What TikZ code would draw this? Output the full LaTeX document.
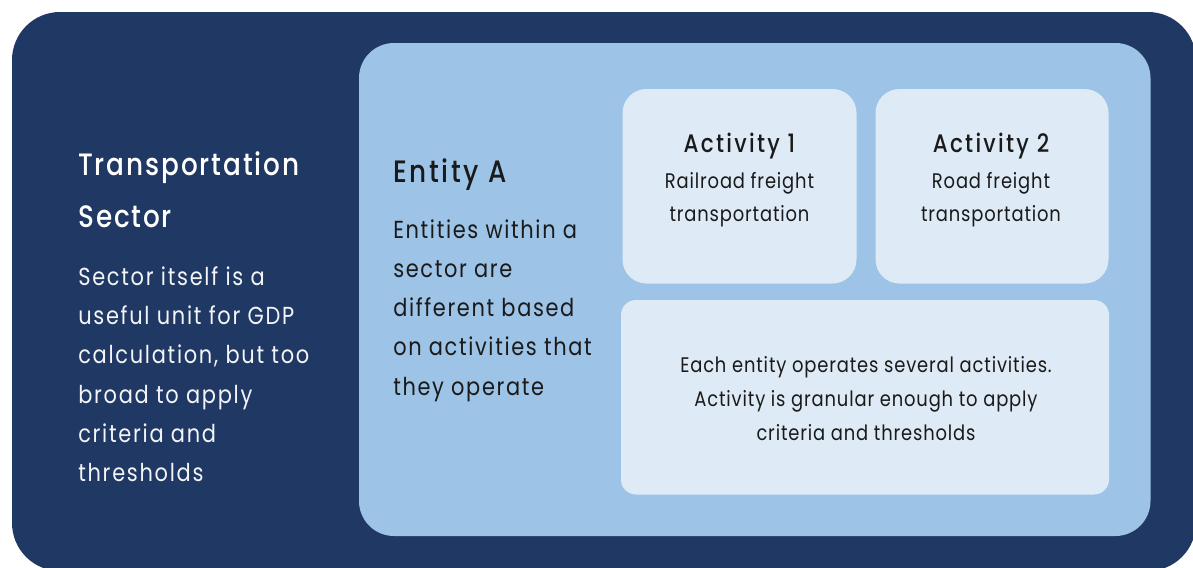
\documentclass[tikz,border=0pt]{standalone}
\usepackage{fontspec}
\setmainfont{Poppins}[FakeStretch=0.85]
\newfontfamily\headfont{Poppins Medium}[FakeStretch=0.85]
\usetikzlibrary{positioning}

\definecolor{sectornavy}{HTML}{203864}
\definecolor{entityblue}{HTML}{9DC3E6}
\definecolor{activitypale}{HTML}{DEEBF7}
\definecolor{inktext}{HTML}{1A1A1A}

\begin{document}
\begin{tikzpicture}[x=0.025cm,y=-0.025cm,
	sectorhead/.style={anchor=base west,inner sep=0pt,text=white,font=\headfont\fontsize{22}{26}\selectfont\addfontfeature{LetterSpace=6}},
	sectorbody/.style={anchor=base west,inner sep=0pt,text=white!95!sectornavy,font=\fontsize{17.5}{20}\selectfont\addfontfeature{LetterSpace=7}},
	entityhead/.style={anchor=base west,inner sep=0pt,text=inktext,font=\headfont\fontsize{22}{26}\selectfont\addfontfeature{LetterSpace=8.5}},
	entitybody/.style={anchor=base west,inner sep=0pt,text=inktext,font=\fontsize{17.5}{20}\selectfont\addfontfeature{LetterSpace=6.7}},
	acthead/.style={anchor=base,inner sep=0pt,text=inktext,font=\headfont\fontsize{18}{22}\selectfont\addfontfeature{LetterSpace=9}},
	actbody/.style={anchor=base,inner sep=0pt,text=inktext,font=\fontsize{15}{18}\selectfont\addfontfeature{LetterSpace=4}}]
	\useasboundingbox (0,0) rectangle (1193,567);
	% panels
	\fill[sectornavy,rounded corners=1.2cm] (12,12) rectangle (1196,571);
	\fill[entityblue,rounded corners=0.875cm] (359,43) rectangle (1150.5,536);
	\fill[activitypale,rounded corners=0.6cm] (622.5,89) rectangle (856.5,283.5);
	\fill[activitypale,rounded corners=0.6cm] (875.5,89) rectangle (1108.5,283.5);
	\fill[activitypale,rounded corners=0.375cm] (621,300) rectangle (1109,494.5);
	% sector
	\node[sectorhead] (sechead1) at (78,175) {Transportation};
	\node[sectorhead] (sechead2) at (78,227) {Sector};
	\node[sectorbody] (sec1) at (78,285.5) {Sector itself is a};
	\node[sectorbody] (sec2) at (78,324.7) {useful unit for GDP};
	\node[sectorbody] (sec3) at (78,363.9) {calculation, but too};
	\node[sectorbody] (sec4) at (78,403.1) {broad to apply};
	\node[sectorbody] (sec5) at (78,442.3) {criteria and};
	\node[sectorbody] (sec6) at (78,481.5) {thresholds};
	% entity
	\node[entityhead] (enthead) at (393,182.3) {Entity A};
	\node[entitybody] (ent1) at (393,238.3) {Entities within a};
	\node[entitybody] (ent2) at (393,277.5) {sector are};
	\node[entitybody] (ent3) at (393,316.7) {different based};
	\node[entitybody] (ent4) at (393,355.9) {on activities that};
	\node[entitybody] (ent5) at (393,395.1) {they operate};
	% activities
	\node[acthead] (acthead1) at (739.5,152.7) {Activity 1};
	\node[actbody] (act1a) at (739.5,188.3) {Railroad freight};
	\node[actbody] (act1b) at (739.5,221.7) {transportation};
	\node[acthead] (acthead2) at (991,152.7) {Activity 2};
	\node[actbody] (act2a) at (991,188.3) {Road freight};
	\node[actbody] (act2b) at (991,221.7) {transportation};
	\node[actbody] (note1) at (866,372.3) {Each entity operates several activities.};
	\node[actbody] (note2) at (866,406.5) {Activity is granular enough to apply};
	\node[actbody] (note3) at (866,440.5) {criteria and thresholds};
\end{tikzpicture}
\end{document}
